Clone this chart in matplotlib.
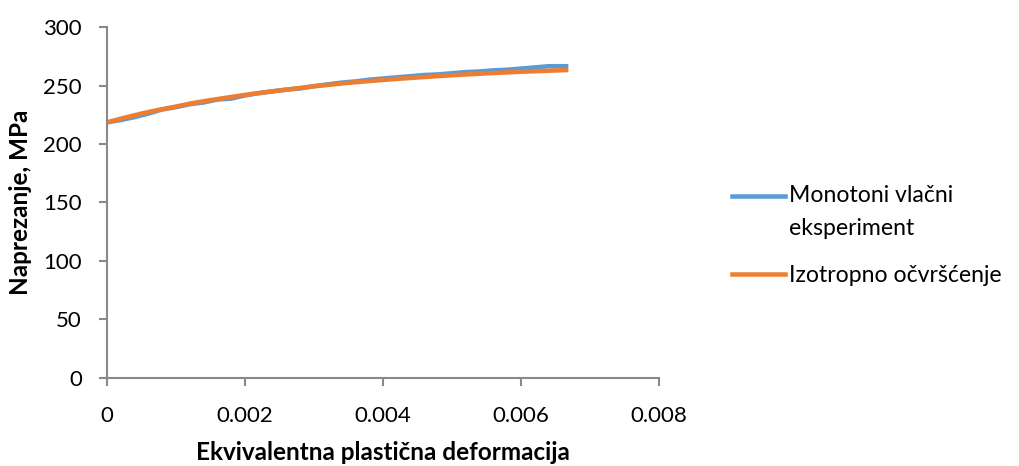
import matplotlib.pyplot as plt
import numpy as np

plt.rcParams['font.family'] = ['Lato', 'DejaVu Sans']

# Monotoni vlačni eksperiment
eps_exp = [0, 0.0002, 0.0004, 0.0006, 0.0008, 0.001, 0.0012, 0.0014, 0.0016, 0.0018,
           0.002, 0.0022, 0.0024, 0.0026, 0.0028, 0.003, 0.0032, 0.0034, 0.0036, 0.0038,
           0.004, 0.0042, 0.0044, 0.0046, 0.0048, 0.005, 0.0052, 0.0054, 0.0056, 0.0058,
           0.006, 0.0062, 0.0064, 0.00665]
sig_exp = [218.5, 220.5, 223, 226, 229.5, 231.5, 234, 235.5, 238, 238.8,
           241.5, 243.5, 245, 246.5, 247.5, 249.5, 251, 252.5, 253.5, 255,
           256, 257, 258, 259, 259.5, 260.5, 261.5, 262, 263, 263.5,
           264.5, 265.5, 266.5, 266.5]

# Izotropno očvršćenje
eps_iso = [0, 0.00025, 0.0005, 0.00075, 0.001, 0.00125, 0.0015, 0.002, 0.0025, 0.003,
           0.0035, 0.004, 0.0045, 0.005, 0.0055, 0.006, 0.00665]
sig_iso = [218.5, 222.4, 226, 229.2, 232, 235.1, 237.5, 242, 245.8, 249.3,
           252.3, 254.8, 256.9, 258.8, 260.4, 261.8, 263.2]

fig = plt.figure(figsize=(10.19, 4.66), dpi=100)
ax = fig.add_axes([0.105, 0.189, 0.542, 0.753])

ax.plot(eps_exp, sig_exp, color='#5B9BD5', lw=3.25, label='Monotoni vlačni\neksperiment')
ax.plot(eps_iso, sig_iso, color='#ED7D31', lw=3.25, label='Izotropno očvršćenje')

ax.set_xlim(0, 0.008)
ax.set_ylim(0, 300)
ax.set_xticks([0, 0.002, 0.004, 0.006, 0.008])
ax.set_xticklabels(['0', '0.002', '0.004', '0.006', '0.008'])
ax.set_yticks(np.arange(0, 301, 50))

for s in ['top', 'right']:
    ax.spines[s].set_visible(False)
for s in ['left', 'bottom']:
    ax.spines[s].set_color('#898989')
    ax.spines[s].set_linewidth(1.5)
ax.tick_params(colors='#898989', width=1.5, length=6, labelsize=16, labelcolor='black')
ax.tick_params(axis='y', pad=12)
ax.tick_params(axis='x', pad=14)

ax.set_xlabel('Ekvivalentna plastična deformacija', fontsize=17.5, fontweight='bold', labelpad=11)
ax.set_ylabel('Naprezanje, MPa', fontsize=17.5, fontweight='bold', labelpad=8)

leg = fig.legend(loc='upper left', bbox_to_anchor=(0.7066, 0.628), frameon=False, fontsize=16.6,
                 handlelength=2.3, labelspacing=1.15, handletextpad=0.21, borderpad=0)
for t in leg.get_texts():
    t.set_linespacing(1.7)
# put the blue handle level with the first line of its label
h = leg.legend_handles[0]
h.set_ydata(np.asarray(h.get_ydata()) + 12)

fig.savefig('out.png', dpi=100)
